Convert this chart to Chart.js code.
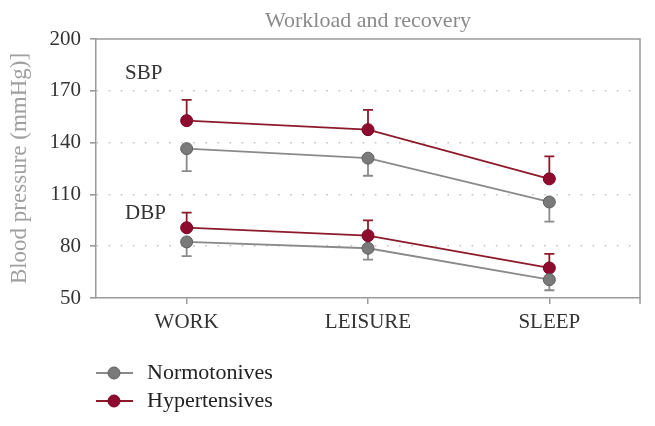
<!DOCTYPE html>
<html>
<head>
<meta charset="utf-8">
<script src="https://cdn.jsdelivr.net/npm/chart.js@4/dist/chart.umd.min.js"></script>
<style>
  body { margin: 0; background: #fff; }
  #wrap { width: 655px; height: 426px; }
</style>
</head>
<body>
<div id="wrap"><canvas id="myChart"></canvas></div>
<script>
const periodos = ["WORK", "LEISURE", "SLEEP"];
const yTicks = [50, 80, 110, 140, 170, 200];

// SBP
const sbpNormo = [136.5, 131, 105.6];
const sbpNormoSd = [13, 10.2, 11.4];
const sbpHiper = [152.7, 147.5, 119];
const sbpHiperSd = [12, 11.5, 13];
// DBP
const dbpNormo = [82.5, 78.8, 60.6];
const dbpNormoSd = [8.2, 6.6, 6.1];
const dbpHiper = [90.7, 86.1, 67.4];
const dbpHiperSd = [8.7, 8.9, 8.1];

const grisLinea = "#8a8a8a";
const grisPunto = "#7a7a7a";
const rojoLinea = "#8c1a2a";
const rojoPunto = "#8e0a2e";
const fuente = "'Liberation Serif', 'DejaVu Serif', serif";

const serie = (label, data, sd, dir, linea, punto, borde) => ({
  label, data, sd, dir,
  borderColor: linea,
  borderWidth: 1.8,
  pointBackgroundColor: punto,
  pointBorderColor: borde,
  pointBorderWidth: 1,
  pointRadius: 6,
  tension: 0,
});

// barras de error + marco + textos
const extras = {
  id: "extras",
  beforeDatasetsDraw(chart) {
    const { ctx, chartArea: a, scales: { x, y } } = chart;
    ctx.save();
    ctx.strokeStyle = "#9a9a9a";
    ctx.lineWidth = 1.5;
    ctx.beginPath();
    ctx.moveTo(a.left, a.top);
    ctx.lineTo(a.right, a.top);
    ctx.lineTo(a.right, a.bottom + 6);
    ctx.stroke();

    chart.data.datasets.forEach((ds) => {
      ctx.strokeStyle = ds.borderColor;
      ctx.lineWidth = 1.8;
      ds.data.forEach((v, i) => {
        const px = x.getPixelForValue(i);
        const p0 = y.getPixelForValue(v);
        const p1 = y.getPixelForValue(v + ds.dir * ds.sd[i]);
        ctx.beginPath();
        ctx.moveTo(px, p0);
        ctx.lineTo(px, p1);
        ctx.moveTo(px - 5, p1);
        ctx.lineTo(px + 5, p1);
        ctx.stroke();
      });
    });
    ctx.restore();
  },
  afterDraw(chart) {
    const { ctx, chartArea: a, scales: { y } } = chart;
    ctx.save();
    // titulo centrado sobre el area del grafico
    ctx.font = "22px " + fuente;
    ctx.fillStyle = "#8a8a8a";
    ctx.textAlign = "center";
    ctx.textBaseline = "middle";
    ctx.fillText("Workload and recovery", (a.left + a.right) / 2, 21);

    ctx.textAlign = "left";
    ctx.font = "21px " + fuente;
    ctx.fillStyle = "#333";
    ctx.fillText("SBP", 125, y.getPixelForValue(179.8));
    ctx.fillText("DBP", 125, y.getPixelForValue(98.8));

    // leyenda
    const items = [
      ["Normotonives", grisLinea, grisPunto, "#5f5f5f"],
      ["Hypertensives", rojoLinea, rojoPunto, "#7a0020"],
    ];
    items.forEach(([txt, linea, punto, borde], k) => {
      const yy = 373 + k * 28;
      ctx.strokeStyle = linea;
      ctx.lineWidth = 1.8;
      ctx.beginPath();
      ctx.moveTo(a.left, yy);
      ctx.lineTo(a.left + 37, yy);
      ctx.stroke();
      ctx.beginPath();
      ctx.arc(a.left + 18, yy, 6, 0, Math.PI * 2);
      ctx.fillStyle = punto;
      ctx.fill();
      ctx.strokeStyle = borde;
      ctx.lineWidth = 1;
      ctx.stroke();
      ctx.fillStyle = "#222";
      ctx.font = "22px " + fuente;
      ctx.fillText(txt, a.left + 51, yy);
    });
    ctx.restore();
  },
};

new Chart(document.getElementById("myChart"), {
  type: "line",
  data: {
    labels: periodos,
    datasets: [
      serie("Normotonives SBP", sbpNormo, sbpNormoSd, -1, grisLinea, grisPunto, "#5f5f5f"),
      serie("Hypertensives SBP", sbpHiper, sbpHiperSd, 1, rojoLinea, rojoPunto, "#7a0020"),
      serie("Normotonives DBP", dbpNormo, dbpNormoSd, -1, grisLinea, grisPunto, "#5f5f5f"),
      serie("Hypertensives DBP", dbpHiper, dbpHiperSd, 1, rojoLinea, rojoPunto, "#7a0020"),
    ],
  },
  options: {
    responsive: true,
    maintainAspectRatio: false,
    animation: false,
    layout: { padding: { left: 0, right: 15, top: 39, bottom: 0 } },
    plugins: {
      legend: { display: false },
      tooltip: { enabled: false },
    },
    scales: {
      x: {
        offset: true,
        grid: { display: true, drawOnChartArea: false, tickLength: 6, color: "#9a9a9a", lineWidth: 1.5 },
        border: { color: "#9a9a9a", width: 1.5 },
        ticks: { color: "#333", font: { family: fuente, size: 21 }, padding: 6 },
        afterFit(scale) { scale.height = 128; },
      },
      y: {
        min: 50,
        max: 200,
        afterBuildTicks(scale) { scale.ticks = yTicks.map((v) => ({ value: v })); },
        grid: {
          color: (c) => (c.tick && (c.tick.value === 50 || c.tick.value === 200) ? "rgba(0,0,0,0)" : "#c2c2c2"),
          lineWidth: 1.6,
          tickColor: "#9a9a9a",
          tickLength: 6,
          tickBorderDash: [],
        },
        border: { color: "#9a9a9a", width: 1.5, dash: [1.6, 10.5] },
        ticks: { color: "#333", font: { family: fuente, size: 21 }, padding: 9 },
        title: {
          display: true,
          text: "Blood pressure (mmHg)]",
          color: "#a0a0a0",
          font: { family: fuente, size: 23 },
          padding: { top: 6, bottom: 0 },
        },
        afterFit(scale) { scale.width = 96; },
      },
    },
  },
  plugins: [extras],
});
</script>
</body>
</html>
